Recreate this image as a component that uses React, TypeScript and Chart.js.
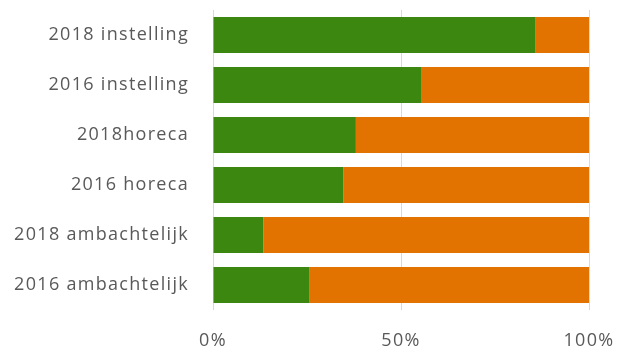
import React, { useEffect, useRef } from "react";
import { Chart, registerables } from "chart.js";

Chart.register(...registerables);

const categories = [
  "2018 instelling",
  "2016 instelling",
  "2018horeca",
  "2016 horeca",
  "2018 ambachtelijk",
  "2016 ambachtelijk",
];
const greenValues = [85.8, 55.5, 38.0, 34.7, 13.4, 25.7];
const orangeValues = [14.2, 44.5, 62.0, 65.3, 86.6, 74.3];
const xTickValues = [0, 50, 100];

const GREEN = "#3b8710";
const ORANGE = "#e27300";
const TEXT = "#595959";
const GRID = "#d9d9d9";

const spacingPlugin = {
  id: "letterSpacing",
  beforeLayout(chart: any) {
    chart.ctx.letterSpacing = "1.3px";
  },
  beforeDraw(chart: any) {
    chart.ctx.letterSpacing = "1.3px";
  },
};

export default function App() {
  const ref = useRef<HTMLCanvasElement | null>(null);

  useEffect(() => {
    if (!ref.current) return;
    const chart = new Chart(ref.current, {
      type: "bar",
      data: {
        labels: categories,
        datasets: [
          {
            label: "a",
            data: greenValues,
            backgroundColor: GREEN,
            borderWidth: 0,
            barPercentage: 0.72,
            categoryPercentage: 1,
          },
          {
            label: "b",
            data: orangeValues,
            backgroundColor: ORANGE,
            borderWidth: 0,
            barPercentage: 0.72,
            categoryPercentage: 1,
          },
        ],
      },
      plugins: [spacingPlugin],
      options: {
        indexAxis: "y",
        responsive: false,
        animation: false,
        layout: { padding: { top: 10, right: 28, left: 0, bottom: 0 } },
        plugins: {
          legend: { display: false },
          tooltip: { enabled: false },
        },
        scales: {
          x: {
            stacked: true,
            min: 0,
            max: 100,
            afterBuildTicks: (scale: any) => {
              scale.ticks = xTickValues.map((v) => ({ value: v }));
            },
            afterFit: (scale: any) => {
              scale.height = 42;
              scale.paddingLeft = 0;
              scale.paddingRight = 0;
            },
            ticks: {
              color: TEXT,
              font: { family: "'Open Sans'", size: 18 },
              padding: 20,
              maxRotation: 0,
              callback: (v: any) => v + "%",
            },
            grid: { color: GRID, lineWidth: 1, drawTicks: false },
            border: { display: false },
          },
          y: {
            stacked: true,
            afterFit: (scale: any) => {
              scale.width = 213;
              scale.paddingTop = 0;
              scale.paddingBottom = 0;
            },
            ticks: {
              color: TEXT,
              font: { family: "'Open Sans'", size: 18 },
              padding: 24,
            },
            grid: { display: false, drawTicks: false },
            border: { display: false },
          },
        },
      },
    } as any);
    return () => chart.destroy();
  }, []);

  return (
    <div style={{ position: "fixed", left: 0, top: 0, width: 617, height: 352, background: "#fff" }}>
      <canvas ref={ref} width={617} height={352} />
    </div>
  );
}
